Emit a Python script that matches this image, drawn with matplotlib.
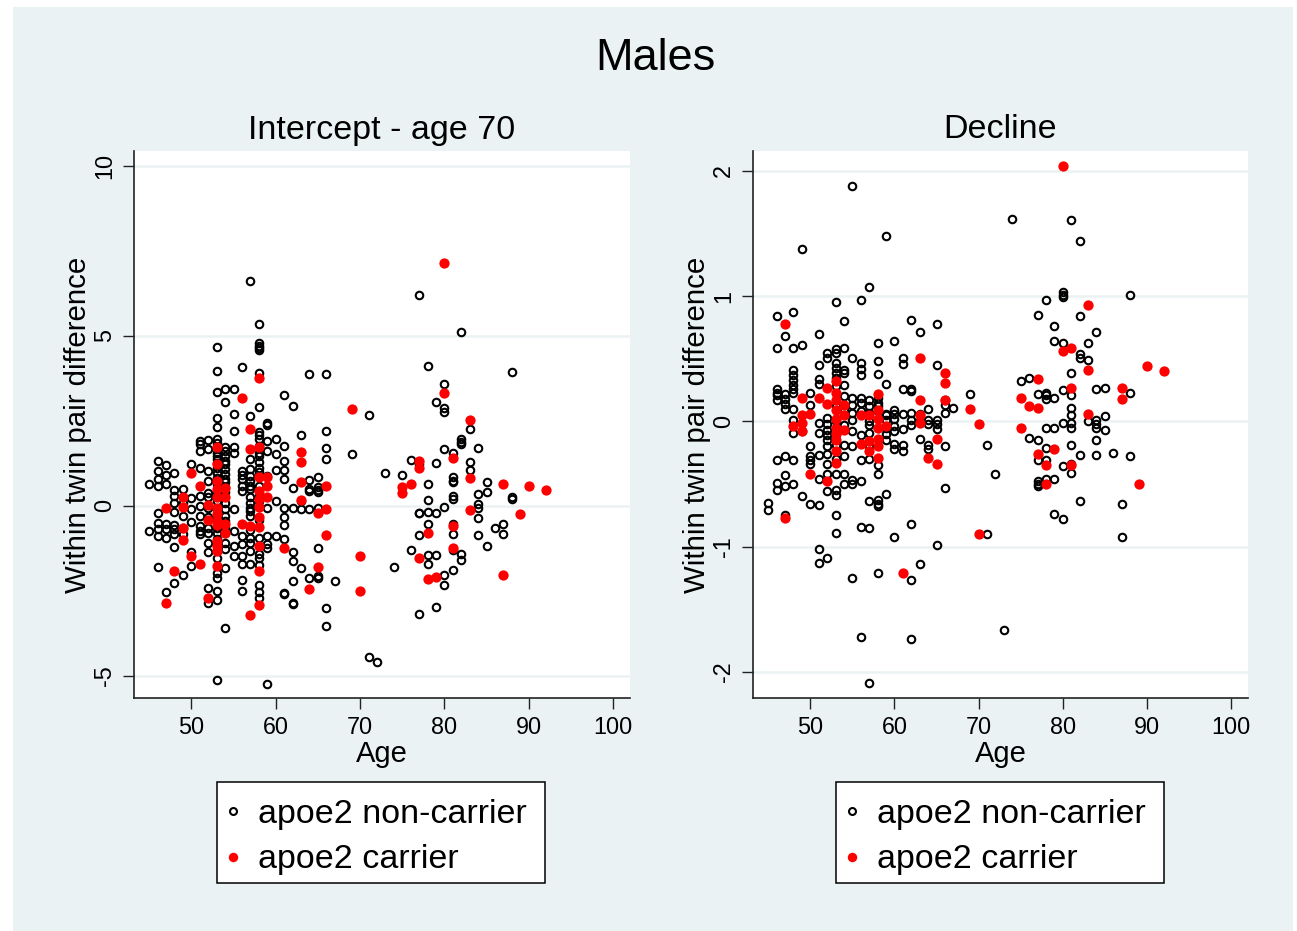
import matplotlib
matplotlib.use('Agg')
import matplotlib.pyplot as plt
from matplotlib.patches import Rectangle

plt.rcParams['font.family'] = ['Liberation Sans', 'DejaVu Sans']
plt.rcParams['axes.unicode_minus'] = False

FIG_W, FIG_H = 1297, 931
BACKGROUND = '#eaf2f3'

# Values: age -> within twin pair differences
intercept_non_carrier = {
    45: [0.64, -0.74],
    46: [1.33, 1.03, 0.79, 0.59, -0.2, -0.49, -0.69, -0.88, -1.79],
    47: [1.21, 0.91, 0.64, -0.54, -0.69, -0.93, -2.52],
    48: [0.98, 0.46, 0.29, 0.1, -0.17, -0.56, -0.69, -0.83, -1.21, -2.26],
    49: [0.49, -0.29, -0.64, -0.83, -2.03, 0.1],
    50: [1.23, 0.23, -0.1, -0.46, -1.37, -1.77],
    51: [1.91, 1.82, 1.62, 1.13, 0.29, 0.0, -0.29, -0.59, -0.74, -0.83],
    52: [1.93, 1.67, 1.03, 0.74, 0.39, 0.25, -0.05, -0.34, -0.64, -0.79, -1.08, -1.35, -2.41, -2.85],
    53: [4.68, 3.96, 3.36, 2.58, 2.33, 1.96, 1.57, 1.37, 1.13, 0.98, 0.83, 0.64, 0.15, -0.1, -0.34, -0.79, -0.98,
         -1.52, -1.96, -2.11, -2.5, -2.77, -5.12, 1.85, 1.47, 0.4, -0.65, 1.72, 1.25],
    54: [3.44, 3.05, 1.72, 1.62, 1.47, 1.33, 1.23, 1.08, 0.93, 0.79, 0.69, -0.1, -0.29, -0.66, -1.08, -1.28,
         -1.82, -3.58, 0.4, 0.1, -0.45, 0.55, -0.8],
    55: [3.44, 2.7, 2.19, 1.72, 1.57, -0.1, -0.74, -1.18, -1.47],
    56: [4.08, 1.03, 0.79, 0.44, -0.88, -1.13, -1.47, -1.72, -2.19, -2.5, 0.9, 0.6],
    57: [6.61, 2.65, 1.37, 1.08, 0.88, 0.74, 0.59, -0.05, -0.15, -0.29, -0.93, -1.33, -1.72, 0.5, 0.1, -0.7, -1.1, 0.25],
    58: [5.35, 4.78, 4.71, 4.64, 4.59, 3.91, 2.9, 2.16, 2.1, 1.96, 1.47, 1.28, 1.13, 0.15, -0.4, -0.95, -1.42, -1.52,
         -1.75, -2.33, -2.52, -2.7, 1.75, 1.0, 0.3, 1.55, 0.6],
    59: [2.45, 2.39, 1.91, 1.62, 0.88, -0.05, -0.88, -1.13, -1.23, -5.24],
    60: [1.96, 1.52, 1.05, 0.15, -0.88],
    61: [3.26, 1.77, 1.31, 1.05, 0.79, -0.07, -0.34, -0.56, -0.98, -2.55, -2.6],
    62: [2.93, 0.54, -0.05, -1.35, -1.62, -2.21, -2.85, -2.89],
    63: [2.08, 0.15, -0.1, -1.84],
    64: [3.87, 0.76, 0.49, 0.44, -0.1, -2.13],
    65: [0.86, 0.56, 0.46, 0.42, -0.05, -1.25, -2.06, -2.11],
    66: [3.89, 2.2, 1.69, 1.39, -3.01, -3.53],
    67: [-2.21],
    69: [1.52],
    71: [2.67, -4.43],
    72: [-4.58],
    73: [0.96],
    74: [-1.8],
    75: [0.92],
    76: [1.35, -1.3],
    77: [6.19, 1.23, -0.2, -0.22, -0.86, -3.17],
    78: [4.12, 0.64, 0.18, -0.18, -0.54, -1.44, -1.7],
    79: [3.06, 1.25, -0.22, -1.44, -2.97],
    80: [3.6, 2.88, 2.77, 1.67, -0.03, -2.03, -2.32],
    81: [1.57, 0.85, 0.74, 0.69, 0.29, 0.2, -0.52, -0.83, -1.3, -1.89],
    82: [5.12, 1.96, 1.87, 1.82, -1.42, -1.59],
    83: [2.27, 1.28, 1.05],
    84: [1.69, 0.34, 0.07, -0.07, -0.36, -0.86],
    85: [0.71, 0.42, -1.18],
    86: [-0.66],
    87: [-0.54, -0.83],
    88: [3.95, 0.25, 0.2],
}
intercept_carrier = {
    47: [-0.05, -2.85],
    48: [-1.91],
    49: [0.25, -0.03, -0.66, -1.01],
    50: [0.98, -1.47],
    51: [0.59, -1.7],
    52: [0.03, -0.42, -2.72],
    53: [1.72, 1.23, 0.74, 0.49, 0.25, -0.05, -0.25, -0.44, -0.56, -1.03, -1.18, -1.33, -1.77],
    54: [0.52, 0.27, -0.54, -0.79],
    56: [3.16, -0.52],
    57: [2.26, 1.67, -0.59, -3.2],
    58: [3.75, 1.72, 0.85, 0.44, 0.2, -0.03, -0.32, -0.62, -1.18, -1.91, -2.91],
    59: [0.85, 0.59, 0.25],
    61: [-1.23],
    63: [1.59, 1.28, 0.69, 0.17],
    64: [-2.43],
    65: [-0.2, -1.8],
    66: [0.59, -0.1, -0.86],
    69: [2.84],
    70: [-1.47, -2.5],
    75: [0.56, 0.38],
    76: [0.64],
    77: [1.33, 1.13, -1.54],
    78: [-0.8, -2.15],
    79: [-2.08],
    80: [7.16, 3.33],
    81: [1.42, -0.6, -1.25],
    83: [2.52, 0.81, -0.12],
    87: [0.64, -2.03],
    89: [-0.23],
    90: [0.59],
    92: [0.47],
}
decline_non_carrier = {
    45: [-0.65, -0.71],
    46: [0.84, 0.59, 0.26, 0.23, 0.21, 0.17, -0.31, -0.49, -0.55],
    47: [0.68, 0.22, 0.18, 0.14, 0.1, -0.28, -0.43, -0.52, -0.75],
    48: [0.87, 0.59, 0.41, 0.37, 0.33, 0.29, 0.26, 0.23, 0.1, 0.01, -0.09, -0.31, -0.5],
    49: [1.38, 0.61, -0.08, -0.6],
    50: [0.23, 0.13, -0.2, -0.28, -0.31, -0.34, -0.66],
    51: [0.7, 0.45, 0.34, 0.3, -0.01, -0.09, -0.27, -0.46, -0.67, -1.02, -1.13],
    52: [0.55, 0.51, 0.03, -0.02, -0.07, -0.11, -0.15, -0.2, -0.26, -0.34, -0.42, -0.56, -1.09],
    53: [0.95, 0.58, 0.55, 0.47, 0.43, 0.39, 0.35, -0.19, -0.42, -0.55, -0.59, -0.75, -0.89, 0.12, 0.0, -0.1, 0.28, -0.3],
    54: [0.8, 0.59, 0.41, 0.39, 0.29, -0.19, -0.28, -0.42, -0.5, 0.1, -0.03, 0.2],
    55: [1.88, 0.51, 0.19, 0.01, 0.07, -0.2, -0.47, -0.5, -1.25, -0.08, 0.13],
    56: [0.97, 0.47, 0.42, 0.37, 0.19, 0.15, -0.11, -0.31, -0.48, -0.84, -1.72, 0.08],
    57: [1.07, 0.17, 0.12, 0.07, -0.03, -0.09, -0.64, -0.85, -2.09, -0.2, 0.0, -0.3],
    58: [0.63, 0.48, 0.38, 0.19, 0.08, -0.05, -0.35, -0.42, -0.63, -0.66, -0.68, -1.21, 0.12, 0.15],
    59: [1.48, 0.3, 0.06, 0.01, -0.15, -0.58, 0.05, -0.05, -0.1],
    60: [0.64, 0.09, 0.06, 0.02, -0.08, -0.18, -0.22, -0.92, -0.04],
    61: [0.51, 0.46, 0.26, -0.06, -0.19, -0.24, 0.06],
    62: [0.81, 0.26, 0.24, 0.07, 0.01, -0.03, -0.82, -1.27, -1.74],
    63: [0.71, 0.06, -0.14, -1.14, 0.0],
    64: [0.1, 0.01, -0.02, -0.19, -0.22],
    65: [0.78, 0.45, 0.01, -0.02, -0.06, -0.99],
    66: [0.17, 0.13, 0.07, -0.2, -0.53],
    67: [0.11],
    69: [0.22],
    71: [-0.19, -0.9],
    72: [-0.42],
    73: [-1.67],
    74: [1.62],
    75: [0.32],
    76: [0.35, -0.13],
    77: [0.85, 0.22, -0.15, -0.31, -0.48, -0.5, -0.52],
    78: [0.97, 0.23, 0.21, 0.18, -0.05, -0.21, -0.31, -0.46],
    79: [0.76, 0.64, 0.19, -0.05, -0.46, -0.74],
    80: [1.03, 1.01, 0.99, 0.63, 0.25, -0.01, -0.36, -0.78],
    81: [1.61, 0.39, 0.21, 0.11, 0.05, -0.01, -0.05, -0.19, -0.34, -0.41],
    82: [1.44, 0.84, 0.54, 0.51, -0.27, -0.64],
    83: [0.63, 0.49, 0.0],
    84: [0.71, 0.26, 0.01, -0.02, -0.05, -0.15, -0.27],
    85: [0.27, 0.04, -0.07],
    86: [-0.25],
    87: [-0.66, -0.92],
    88: [1.01, 0.23, -0.28],
}
decline_carrier = {
    47: [0.78, -0.77],
    48: [-0.04],
    49: [0.19, 0.05, -0.01, -0.08],
    50: [0.06, -0.42],
    51: [0.19],
    52: [0.27, 0.14, -0.48],
    53: [0.32, 0.23, 0.17, 0.09, 0.02, -0.05, -0.1, -0.15, -0.24, -0.33],
    54: [0.13, 0.05, -0.07],
    56: [0.05, -0.18],
    57: [0.05, -0.16, -0.24],
    58: [0.22, 0.09, 0.02, -0.05, -0.14, -0.2, -0.29],
    59: [-0.04],
    61: [-1.21],
    63: [0.51, 0.17, 0.05, -0.01],
    64: [-0.29],
    65: [-0.14, -0.34],
    66: [0.39, 0.31, 0.17],
    69: [0.1],
    70: [-0.02, -0.9],
    75: [0.19, -0.05],
    76: [0.12],
    77: [0.34, 0.11, -0.26],
    78: [-0.35, -0.5],
    79: [-0.22],
    80: [2.04, 0.56],
    81: [0.59, 0.27, -0.35],
    83: [0.93, 0.41, 0.06],
    87: [0.27, 0.18],
    89: [-0.5],
    90: [0.44],
    92: [0.4],
}

age_ticks = [50, 60, 70, 80, 90, 100]
intercept_ticks = [-5, 0, 5, 10]
decline_ticks = [-2, -1, 0, 1, 2]
legend_labels = ['apoe2 non-carrier', 'apoe2 carrier']


def expand(by_age):
    ages = []
    values = []
    for age, diffs in by_age.items():
        ages += [age] * len(diffs)
        values += diffs
    return ages, values


def draw_panel(box, non_carrier, carrier, title, yticks, xlim, ylim, legend_left):
    left, top, right, bottom = box
    ax = fig.add_axes([left / FIG_W, 1 - bottom / FIG_H, (right - left) / FIG_W, (bottom - top) / FIG_H])
    ax.set_facecolor('white')
    ax.set_xlim(xlim)
    ax.set_ylim(ylim)

    x, y = expand(non_carrier)
    ax.plot(x, y, 'o', ms=5.4, mfc='none', mec='black', mew=1.5, clip_on=False)
    x, y = expand(carrier)
    ax.plot(x, y, 'o', ms=7.4, mfc='#ff0000', mec='none', clip_on=False)

    ax.set_xticks(age_ticks)
    ax.set_yticks(yticks)
    ax.grid(axis='y', color=BACKGROUND, lw=1.8)
    ax.set_axisbelow(True)
    ax.tick_params(labelsize=16.8, length=8, width=1, color='#222222', pad=5)
    ax.tick_params(axis='y', labelrotation=90)
    for label in ax.get_yticklabels():
        label.set_va('center')
    for side in ['top', 'right']:
        ax.spines[side].set_visible(False)
    for side in ['left', 'bottom']:
        ax.spines[side].set_linewidth(1.2)
        ax.spines[side].set_color('#222222')

    ax.set_xlabel('Age', fontsize=21, labelpad=1)
    ax.set_ylabel('Within twin pair difference', fontsize=21.2, labelpad=1)
    ax.set_title(title, fontsize=24.5, pad=9)

    # legend frame is drawn by hand so the padding can differ per side
    fig.add_artist(Rectangle((legend_left / FIG_W, 1 - 883 / FIG_H), 328 / FIG_W, 101 / FIG_H,
                             transform=fig.transFigure, facecolor='white', edgecolor='black', lw=1.1, zorder=4))
    handles = [plt.Line2D([], [], ls='', marker='o', ms=5, mfc='none', mec='black', mew=1.5),
               plt.Line2D([], [], ls='', marker='o', ms=6.8, mfc='#ff0000', mec='none')]
    fig.legend(handles, legend_labels, loc='center left',
               bbox_to_anchor=((legend_left + 12.6) / FIG_W, 1 - 837 / FIG_H),
               fontsize=24.5, frameon=False, handlelength=0.2, handletextpad=0.62,
               labelspacing=0.44, borderpad=0, borderaxespad=0)
    return ax


fig = plt.figure(figsize=(FIG_W / 100, FIG_H / 100), dpi=100, facecolor='white')
fig.add_artist(Rectangle((13 / FIG_W, 0), (1293 - 13) / FIG_W, 1 - 7 / FIG_H, transform=fig.transFigure,
                         facecolor=BACKGROUND, edgecolor='none', zorder=-5))
fig.text(655 / FIG_W, 1 - 58 / FIG_H, 'Males', fontsize=32.4, ha='center', va='center')

draw_panel((134, 151, 630, 698), intercept_non_carrier, intercept_carrier, 'Intercept - age 70', intercept_ticks,
           (43.2, 102), (-5.65, 10.44), 217)
draw_panel((753, 151, 1248, 698), decline_non_carrier, decline_carrier, 'Decline', decline_ticks,
           (43.2, 102), (-2.21, 2.16), 836)

fig.savefig('out.png', dpi=100, facecolor=fig.get_facecolor())
